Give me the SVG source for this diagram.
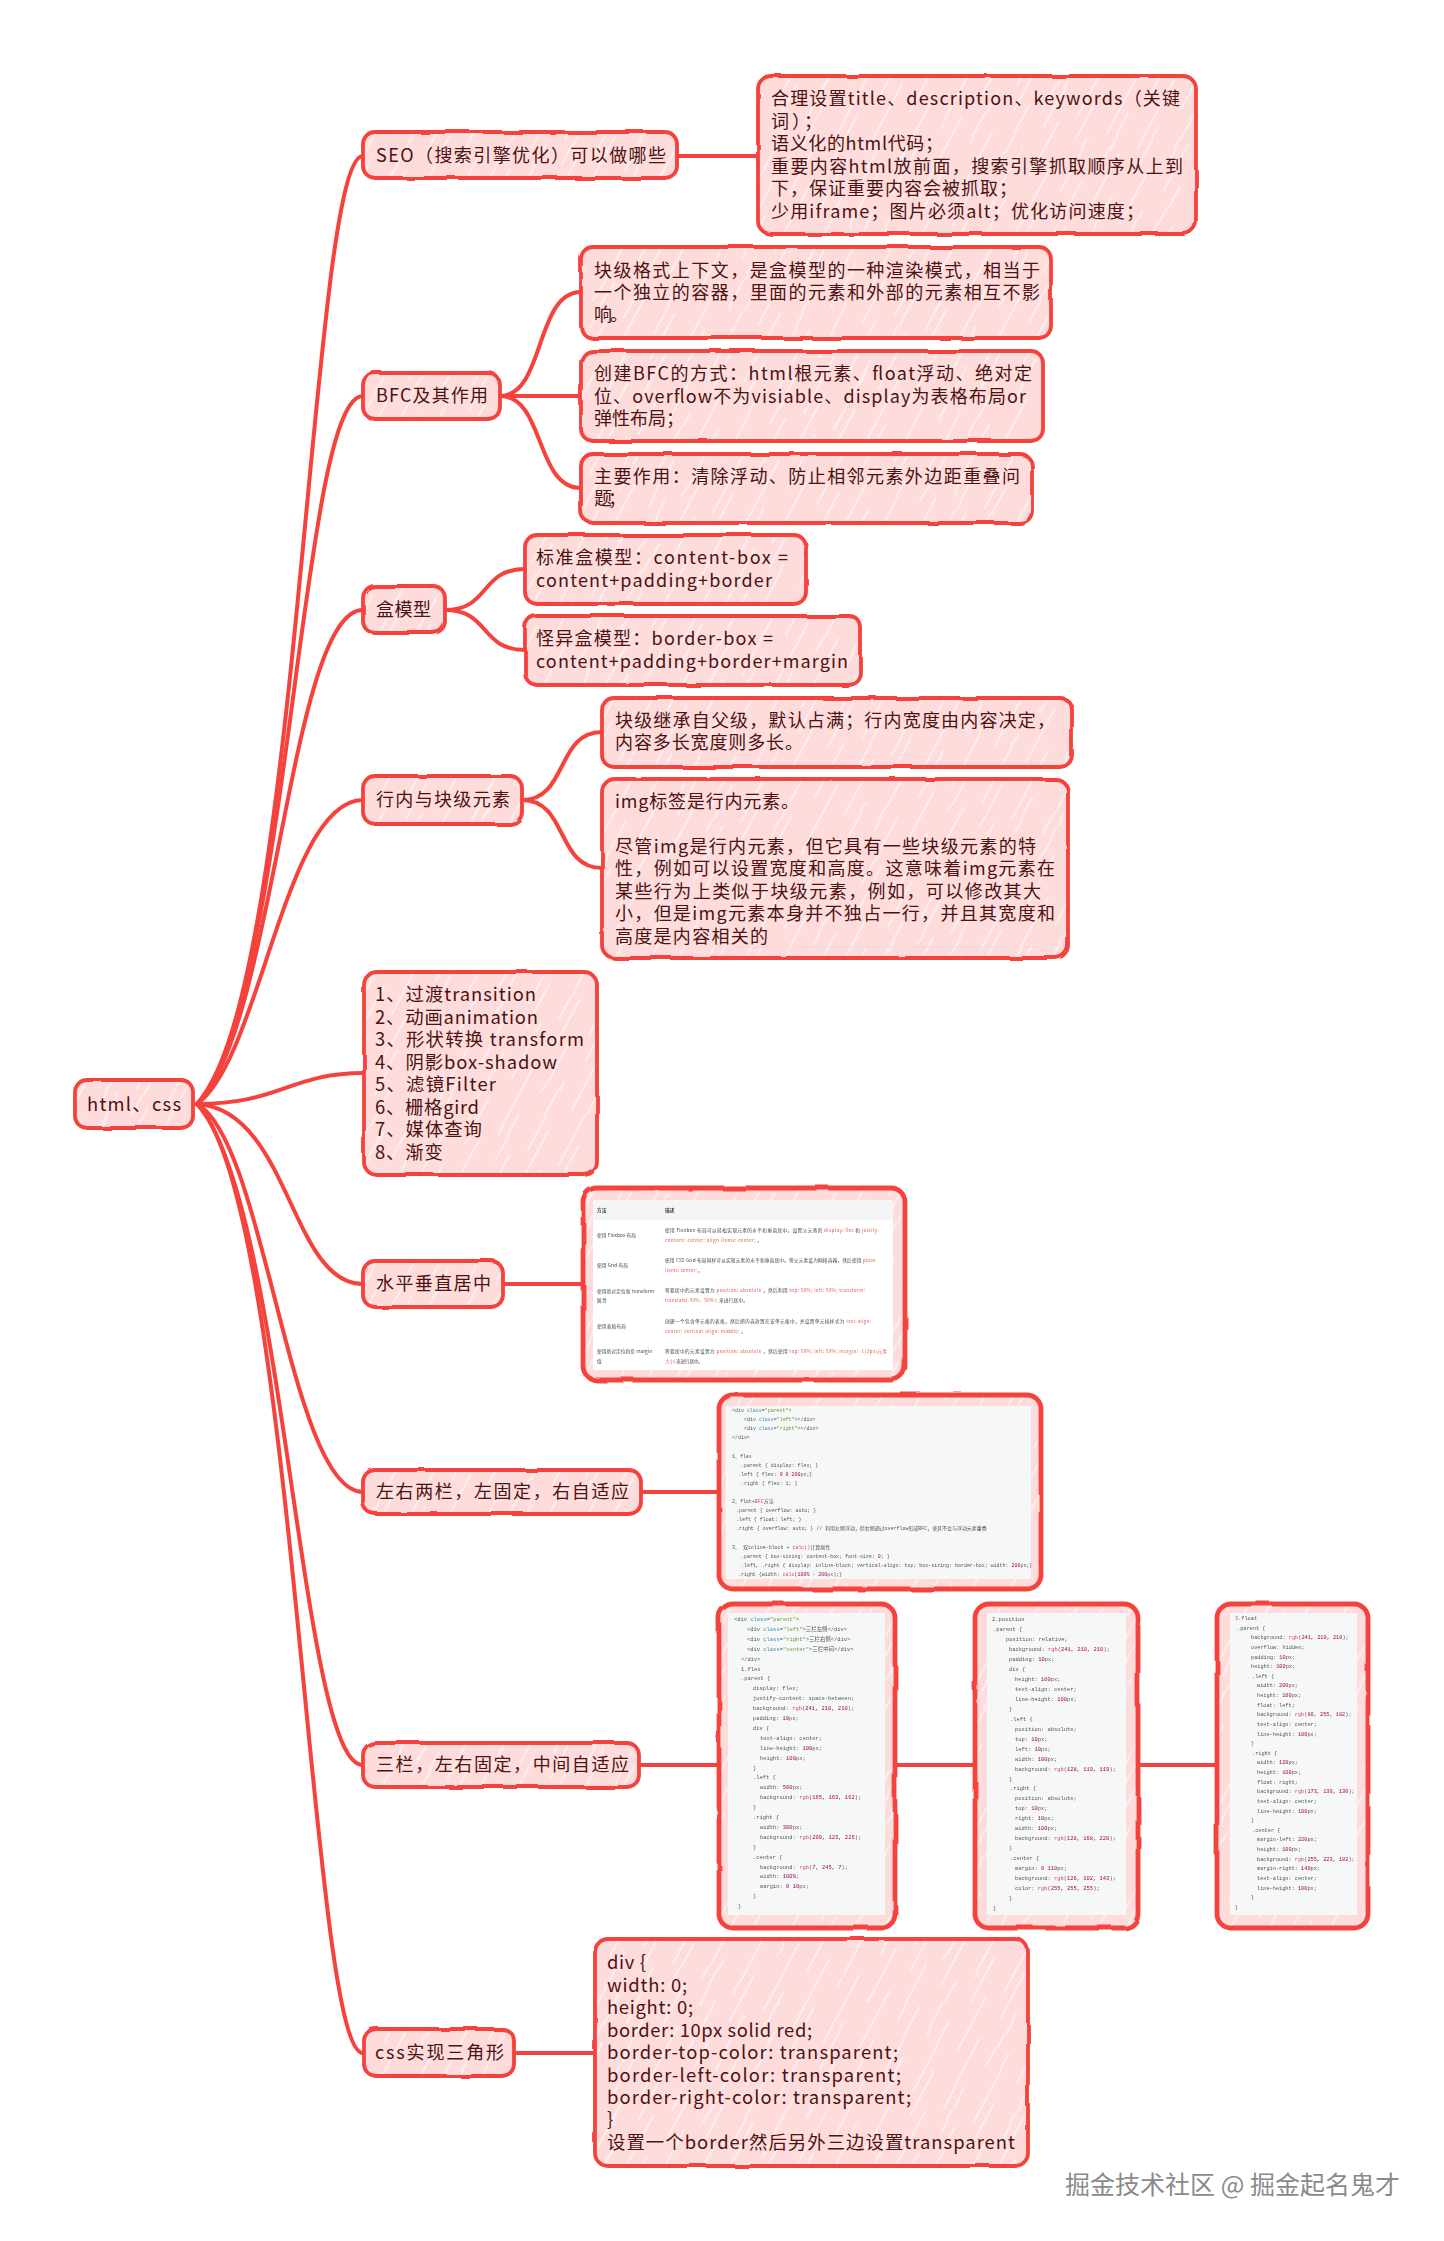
<svg xmlns="http://www.w3.org/2000/svg" width="1444" height="2241" viewBox="0 0 1444 2241">
<style>
.n{fill:url(#h);stroke:#f5423c;stroke-width:3.8;filter:url(#w)}
.i{stroke-width:4.8}
.c{fill:none;stroke:#f5423c;stroke-width:4;stroke-linecap:round}
.t{font-family:"Noto Sans CJK SC","Noto Sans",sans-serif;font-size:18px;fill:#4d1212}
.l{font-size:18.4px}
.k{font-size:18.4px}
.b{font-family:"Noto Sans CJK SC","Noto Sans",sans-serif;font-size:4.7px;fill:#444;filter:url(#s)}
.b tspan{fill:#e0635a}
.m{font-family:"Liberation Mono","Noto Sans CJK SC",monospace;fill:#555;filter:url(#s)}
.a{fill:#3f8fb5}.g{fill:#6a9a3a}.d{fill:#a3004f}.r{fill:#d8407a}
.wm{font-family:"Noto Sans CJK SC",sans-serif;font-size:25px;fill:#8a8a8a}
</style>
<defs>
<pattern id="h" patternUnits="userSpaceOnUse" width="34" height="130" patternTransform="rotate(28)">
<rect width="34" height="130" fill="#fedcdc"/>
<path d="M6 0V62M20 40V118M29 90V130M29 0V12" stroke="#fff" stroke-width="1.3" stroke-opacity=".75" fill="none"/>
</pattern>
<filter id="w" x="-5%" y="-8%" width="110%" height="116%"><feTurbulence type="fractalNoise" baseFrequency=".025" numOctaves="2" seed="4"/><feDisplacementMap in="SourceGraphic" scale="3"/></filter>
<filter id="s" x="-2%" y="-30%" width="104%" height="160%"><feGaussianBlur stdDeviation=".25"/></filter>
</defs>
<rect width="1444" height="2241" fill="#fff"/>
<g id="connectors">
<path class="c" d="M197,1104C300,1000 310,156 363,156"/>
<path class="c" d="M197,1104C290,1000 300,396 363,396"/>
<path class="c" d="M197,1104C275,1030 290,610 363,610"/>
<path class="c" d="M197,1104C260,1060 285,800 363,800"/>
<path class="c" d="M197,1104C280,1104 290,1073 364,1073"/>
<path class="c" d="M197,1104C290,1110 290,1284 363,1284"/>
<path class="c" d="M197,1104C265,1140 290,1492 363,1492"/>
<path class="c" d="M197,1104C285,1200 300,1765 363,1765"/>
<path class="c" d="M197,1104C295,1200 310,2053 363,2053"/>
<path class="c" d="M677,156H758"/>
<path class="c" d="M500,396C545,396 535,292 581,292"/>
<path class="c" d="M500,396H581"/>
<path class="c" d="M500,396C545,396 535,488 581,488"/>
<path class="c" d="M445,610C490,610 480,569 525,569"/>
<path class="c" d="M445,610C490,610 480,650 525,650"/>
<path class="c" d="M522,800C568,800 556,732 602,732"/>
<path class="c" d="M522,800C568,800 556,868 602,868"/>
<path class="c" d="M503,1284H583"/>
<path class="c" d="M641,1492H719"/>
<path class="c" d="M639,1765H718"/>
<path class="c" d="M897,1765H974"/>
<path class="c" d="M1139,1765H1216"/>
<path class="c" d="M514,2053H595"/>
</g>
<g id="root"><rect class="n" x="75" y="1080" width="118" height="48" rx="12"/><text class="t l" x="87" y="1111" textLength="94">html、css</text></g>
<g id="seo"><rect class="n" x="363" y="132" width="314" height="46" rx="12"/><text class="t" x="376" y="162" textLength="290">SEO（搜索引擎优化）可以做哪些</text></g>
<g id="seo-detail"><rect class="n" x="758" y="76" width="438" height="158" rx="13"/>
<text class="t" x="771" y="105" textLength="409">合理设置title、description、keywords（关键</text>
<text class="t" x="771" y="128" textLength="51">词）；</text>
<text class="t" x="771" y="150" textLength="172">语义化的html代码；</text>
<text class="t" x="771" y="173" textLength="412">重要内容html放前面，搜索引擎抓取顺序从上到</text>
<text class="t" x="771" y="195" textLength="246">下，保证重要内容会被抓取；</text>
<text class="t" x="771" y="218" textLength="373">少用iframe；图片必须alt；优化访问速度；</text></g>
<g id="bfc"><rect class="n" x="363" y="373" width="137" height="46" rx="12"/><text class="t" x="376" y="402" textLength="112">BFC及其作用</text></g>
<g id="bfc-1"><rect class="n" x="581" y="247" width="470" height="91" rx="12"/>
<text class="t" x="594" y="277" textLength="446">块级格式上下文，是盒模型的一种渲染模式，相当于</text>
<text class="t" x="594" y="299" textLength="446">一个独立的容器，里面的元素和外部的元素相互不影</text>
<text class="t" x="594" y="321" textLength="34">响。</text></g>
<g id="bfc-2"><rect class="n" x="581" y="351" width="462" height="90" rx="12"/>
<text class="t" x="594" y="380" textLength="438">创建BFC的方式：html根元素、float浮动、绝对定</text>
<text class="t" x="594" y="403" textLength="432">位、overflow不为visiable、display为表格布局or</text>
<text class="t" x="594" y="425" textLength="90">弹性布局；</text></g>
<g id="bfc-3"><rect class="n" x="581" y="454" width="451" height="69" rx="12"/>
<text class="t" x="594" y="483" textLength="426">主要作用：清除浮动、防止相邻元素外边距重叠问</text>
<text class="t" x="594" y="505" textLength="32">题；</text></g>
<g id="box"><rect class="n" x="363" y="586" width="82" height="47" rx="12"/><text class="t" x="376" y="616" textLength="55">盒模型</text></g>
<g id="box-1"><rect class="n" x="525" y="535" width="281" height="69" rx="12"/>
<text class="t" x="536" y="564" textLength="252">标准盒模型：content-box =</text>
<text class="t" x="536" y="587" textLength="236">content+padding+border</text></g>
<g id="box-2"><rect class="n" x="525" y="616" width="336" height="69" rx="12"/>
<text class="t" x="536" y="645" textLength="237">怪异盒模型：border-box =</text>
<text class="t" x="536" y="668" textLength="312">content+padding+border+margin</text></g>
<g id="inline"><rect class="n" x="363" y="776" width="159" height="48" rx="12"/><text class="t" x="376" y="806" textLength="134">行内与块级元素</text></g>
<g id="inline-1"><rect class="n" x="602" y="698" width="470" height="69" rx="12"/>
<text class="t" x="615" y="727" textLength="440">块级继承自父级，默认占满；行内宽度由内容决定，</text>
<text class="t" x="615" y="749" textLength="188">内容多长宽度则多长。</text></g>
<g id="inline-2"><rect class="n" x="602" y="779" width="466" height="179" rx="13"/>
<text class="t" x="615" y="808" textLength="184">img标签是行内元素。</text>
<text class="t" x="615" y="853" textLength="421">尽管img是行内元素，但它具有一些块级元素的特</text>
<text class="t" x="615" y="875" textLength="440">性，例如可以设置宽度和高度。这意味着img元素在</text>
<text class="t" x="615" y="898" textLength="426">某些行为上类似于块级元素，例如，可以修改其大</text>
<text class="t" x="615" y="920" textLength="440">小，但是img元素本身并不独占一行，并且其宽度和</text>
<text class="t" x="615" y="943" textLength="153">高度是内容相关的</text></g>
<g id="effects"><rect class="n" x="364" y="972" width="233" height="203" rx="13"/>
<text class="t k" x="375" y="1001" textLength="161">1、过渡transition</text>
<text class="t k" x="375" y="1024" textLength="163">2、动画animation</text>
<text class="t k" x="375" y="1046" textLength="209">3、形状转换 transform</text>
<text class="t k" x="375" y="1069" textLength="182">4、阴影box-shadow</text>
<text class="t k" x="375" y="1091" textLength="121">5、滤镜Filter</text>
<text class="t k" x="375" y="1114" textLength="104">6、栅格gird</text>
<text class="t k" x="375" y="1136" textLength="107">7、媒体查询</text>
<text class="t k" x="375" y="1159" textLength="68">8、渐变</text></g>
<g id="center"><rect class="n" x="363" y="1261" width="140" height="46" rx="12"/><text class="t" x="376" y="1290" textLength="115">水平垂直居中</text></g>
<g id="center-table"><rect class="n i" x="583" y="1188" width="322" height="192" rx="14"/>
<rect x="593" y="1200" width="300" height="170" fill="#fff"/><rect x="593" y="1200" width="300" height="20" fill="#f4f5f5"/>
<text class="b" x="597" y="1212" font-weight="700">方法</text><text class="b" x="665" y="1212" font-weight="700">描述</text>
<text class="b" x="597" y="1237" textLength="39">使用 Flexbox 布局</text>
<text class="b" x="665" y="1232" textLength="214">使用 Flexbox 布局可以轻松实现元素的水平和垂直居中。设置父元素的 <tspan>display: flex</tspan> 和 <tspan>justify-</tspan></text>
<text class="b" x="665" y="1242" textLength="97"><tspan>content: center; align-items: center;</tspan> 。</text>
<text class="b" x="597" y="1267" textLength="31">使用 Grid 布局</text>
<text class="b" x="665" y="1262" textLength="212">使用 CSS Grid 布局同样可以实现元素的水平和垂直居中。将父元素设为网格容器，然后使用 <tspan>place-</tspan></text>
<text class="b" x="665" y="1272" textLength="38"><tspan>items: center;</tspan> 。</text>
<text class="b" x="597" y="1293" textLength="57">使用绝对定位和 transform</text>
<text class="b" x="597" y="1302" textLength="10">属性</text>
<text class="b" x="665" y="1292" textLength="200">将要居中的元素设置为 <tspan>position: absolute</tspan> ，然后利用 <tspan>top: 50%; left: 50%; transform:</tspan></text>
<text class="b" x="665" y="1302" textLength="83"><tspan>translate(-50%, -50%);</tspan> 来进行居中。</text>
<text class="b" x="597" y="1328" textLength="29">使用表格布局</text>
<text class="b" x="665" y="1323" textLength="206">创建一个包含单元格的表格，然后把内容放置在该单元格中，并设置单元格样式为 <tspan>text-align:</tspan></text>
<text class="b" x="665" y="1333" textLength="81"><tspan>center; vertical-align: middle;</tspan> 。</text>
<text class="b" x="597" y="1353" textLength="55">使用绝对定位和负 margin</text>
<text class="b" x="597" y="1363" textLength="7">值</text>
<text class="b" x="665" y="1353" textLength="222">将要居中的元素设置为 <tspan>position: absolute</tspan> ，然后使用 <tspan>top: 50%; left: 50%; margin: -1/2px(元素</tspan></text>
<text class="b" x="665" y="1363" textLength="38"><tspan>大小)</tspan> 来进行居中。</text></g>
<g id="two-col"><rect class="n" x="363" y="1470" width="278" height="44" rx="12"/><text class="t" x="376" y="1498" textLength="253">左右两栏，左固定，右自适应</text></g>
<g id="two-col-code"><rect class="n i" x="719" y="1395" width="322" height="194" rx="14"/>
<rect x="726" y="1406" width="305" height="173" fill="#f6f7f7"/>
<text class="m" y="1412" font-size="4.97"><tspan x="732">&lt;div <tspan class="a">class</tspan>=<tspan class="g">"parent"</tspan>&gt;</tspan>
<tspan x="744" dy="9.1">&lt;div <tspan class="a">class</tspan>=<tspan class="g">"left"</tspan>&gt;&lt;/div&gt;</tspan>
<tspan x="744" dy="9.1">&lt;div <tspan class="a">class</tspan>=<tspan class="g">"right"</tspan>&gt;&lt;/div&gt;</tspan>
<tspan x="732" dy="9.1">&lt;/div&gt;</tspan>
<tspan x="732" dy="18.2">1、flex</tspan>
<tspan x="741" dy="9.1">.parent { display: flex; }</tspan>
<tspan x="738" dy="9.1">.left { flex: <tspan class="d">0 0 200</tspan>px;}</tspan>
<tspan x="741" dy="9.1">.right { flex: 1; }</tspan>
<tspan x="732" dy="18.2">2、flot+<tspan class="r">BFC</tspan>方法</tspan>
<tspan x="736" dy="9.1">.parent { overflow: auto; }</tspan>
<tspan x="736" dy="9.1">.left { float: left; }</tspan>
<tspan x="736" dy="9.1">.right { overflow: auto; } // 利用左侧浮动，但右侧通过overflow形成BFC，使其不会与浮动元素重叠</tspan>
<tspan x="732" dy="18.2">3、 双inline-block + <tspan class="r">calc()</tspan>计算属性</tspan>
<tspan x="741" dy="9.1">.parent { box-sizing: content-box; font-size: <tspan class="d">0</tspan>; }</tspan>
<tspan x="741" dy="9.1">.left, .right { display: inline-block; vertical-align: top; box-sizing: border-box; width: <tspan class="d">200</tspan>px;}</tspan>
<tspan x="738" dy="9.1">.right {width: <tspan class="r">calc</tspan>(<tspan class="d">100%</tspan> - <tspan class="d">200</tspan>px);}</tspan></text></g>
<g id="three-col"><rect class="n" x="363" y="1743" width="276" height="44" rx="12"/><text class="t" x="376" y="1771" textLength="253">三栏，左右固定，中间自适应</text></g>
<g id="three-col-flex"><rect class="n i" x="719" y="1604" width="176" height="324" rx="14"/>
<rect x="728" y="1613" width="157" height="302" fill="#f6f7f7"/>
<text class="m" y="1621" font-size="5.45"><tspan x="734">&lt;div <tspan class="a">class</tspan>=<tspan class="g">"parent"</tspan>&gt;</tspan>
<tspan x="747" dy="9.9">&lt;div <tspan class="a">class</tspan>=<tspan class="g">"left"</tspan>&gt;三栏左侧&lt;/div&gt;</tspan>
<tspan x="747" dy="9.9">&lt;div <tspan class="a">class</tspan>=<tspan class="g">"right"</tspan>&gt;三栏右侧&lt;/div&gt;</tspan>
<tspan x="747" dy="9.9">&lt;div <tspan class="a">class</tspan>=<tspan class="g">"center"</tspan>&gt;三栏中间&lt;/div&gt;</tspan>
<tspan x="741" dy="9.9">&lt;/div&gt;</tspan>
<tspan x="741" dy="9.9">1.flex</tspan>
<tspan x="741" dy="9.9">.parent {</tspan>
<tspan x="753" dy="9.9">display: flex;</tspan>
<tspan x="753" dy="9.9">justify-content: space-between;</tspan>
<tspan x="753" dy="9.9">background: <tspan class="r">rgb</tspan>(<tspan class="d">241, 210, 210</tspan>);</tspan>
<tspan x="753" dy="9.9">padding: <tspan class="d">10</tspan>px;</tspan>
<tspan x="753" dy="9.9">div {</tspan>
<tspan x="760" dy="9.9">text-align: center;</tspan>
<tspan x="760" dy="9.9">line-height: <tspan class="d">100</tspan>px;</tspan>
<tspan x="760" dy="9.9">height: <tspan class="d">100</tspan>px;</tspan>
<tspan x="753" dy="9.9">}</tspan>
<tspan x="753" dy="9.9">.left {</tspan>
<tspan x="760" dy="9.9">width: <tspan class="d">500</tspan>px;</tspan>
<tspan x="760" dy="9.9">background: <tspan class="r">rgb</tspan>(<tspan class="d">165, 163, 162</tspan>);</tspan>
<tspan x="753" dy="9.9">}</tspan>
<tspan x="753" dy="9.9">.right {</tspan>
<tspan x="760" dy="9.9">width: <tspan class="d">300</tspan>px;</tspan>
<tspan x="760" dy="9.9">background: <tspan class="r">rgb</tspan>(<tspan class="d">209, 123, 226</tspan>);</tspan>
<tspan x="753" dy="9.9">}</tspan>
<tspan x="753" dy="9.9">.center {</tspan>
<tspan x="760" dy="9.9">background: <tspan class="r">rgb</tspan>(<tspan class="d">7, 245, 7</tspan>);</tspan>
<tspan x="760" dy="9.9">width: <tspan class="d">100%</tspan>;</tspan>
<tspan x="760" dy="9.9">margin: <tspan class="d">0 10</tspan>px;</tspan>
<tspan x="753" dy="9.9">}</tspan>
<tspan x="738" dy="9.9">}</tspan></text></g>
<g id="three-col-position"><rect class="n i" x="975" y="1604" width="163" height="324" rx="14"/>
<rect x="987" y="1613" width="139" height="302" fill="#f6f7f7"/>
<text class="m" y="1621" font-size="5.43"><tspan x="992">2.position</tspan>
<tspan x="993" dy="9.97">.parent {</tspan>
<tspan x="1006" dy="9.97">position: relative;</tspan>
<tspan x="1009" dy="9.97">background: <tspan class="r">rgb</tspan>(<tspan class="d">241, 210, 210</tspan>);</tspan>
<tspan x="1009" dy="9.97">padding: <tspan class="d">10</tspan>px;</tspan>
<tspan x="1009" dy="9.97">div {</tspan>
<tspan x="1015" dy="9.97">height: <tspan class="d">100</tspan>px;</tspan>
<tspan x="1015" dy="9.97">text-align: center;</tspan>
<tspan x="1015" dy="9.97">line-height: <tspan class="d">100</tspan>px;</tspan>
<tspan x="1009" dy="9.97">}</tspan>
<tspan x="1010" dy="9.97">.left {</tspan>
<tspan x="1015" dy="9.97">position: absolute;</tspan>
<tspan x="1015" dy="9.97">top: <tspan class="d">10</tspan>px;</tspan>
<tspan x="1015" dy="9.97">left: <tspan class="d">10</tspan>px;</tspan>
<tspan x="1015" dy="9.97">width: <tspan class="d">100</tspan>px;</tspan>
<tspan x="1015" dy="9.97">background: <tspan class="r">rgb</tspan>(<tspan class="d">128, 119, 119</tspan>);</tspan>
<tspan x="1009" dy="9.97">}</tspan>
<tspan x="1010" dy="9.97">.right {</tspan>
<tspan x="1015" dy="9.97">position: absolute;</tspan>
<tspan x="1015" dy="9.97">top: <tspan class="d">10</tspan>px;</tspan>
<tspan x="1015" dy="9.97">right: <tspan class="d">10</tspan>px;</tspan>
<tspan x="1015" dy="9.97">width: <tspan class="d">100</tspan>px;</tspan>
<tspan x="1015" dy="9.97">background: <tspan class="r">rgb</tspan>(<tspan class="d">128, 168, 228</tspan>);</tspan>
<tspan x="1009" dy="9.97">}</tspan>
<tspan x="1010" dy="9.97">.center {</tspan>
<tspan x="1015" dy="9.97">margin: <tspan class="d">0 110</tspan>px;</tspan>
<tspan x="1015" dy="9.97">background: <tspan class="r">rgb</tspan>(<tspan class="d">126, 102, 143</tspan>);</tspan>
<tspan x="1015" dy="9.97">color: <tspan class="r">rgb</tspan>(<tspan class="d">255, 255, 255</tspan>);</tspan>
<tspan x="1009" dy="9.97">}</tspan>
<tspan x="993" dy="9.97">}</tspan></text></g>
<g id="three-col-float"><rect class="n i" x="1217" y="1604" width="151" height="324" rx="14"/>
<rect x="1230" y="1613" width="127" height="302" fill="#f6f7f7"/>
<text class="m" y="1620" font-size="5.25"><tspan x="1235"><tspan class="r">3</tspan>.float</tspan>
<tspan x="1237" dy="9.63">.parent {</tspan>
<tspan x="1251" dy="9.63">background: <tspan class="r">rgb</tspan>(<tspan class="d">241, 210, 210</tspan>);</tspan>
<tspan x="1251" dy="9.63">overflow: hidden;</tspan>
<tspan x="1251" dy="9.63">padding: <tspan class="d">10</tspan>px;</tspan>
<tspan x="1251" dy="9.63">height: <tspan class="d">100</tspan>px;</tspan>
<tspan x="1252" dy="9.63">.left {</tspan>
<tspan x="1257" dy="9.63">width: <tspan class="d">200</tspan>px;</tspan>
<tspan x="1257" dy="9.63">height: <tspan class="d">100</tspan>px;</tspan>
<tspan x="1257" dy="9.63">float: left;</tspan>
<tspan x="1257" dy="9.63">background: <tspan class="r">rgb</tspan>(<tspan class="d">80, 255, 182</tspan>);</tspan>
<tspan x="1257" dy="9.63">text-align: center;</tspan>
<tspan x="1257" dy="9.63">line-height: <tspan class="d">100</tspan>px;</tspan>
<tspan x="1251" dy="9.63">}</tspan>
<tspan x="1252" dy="9.63">.right {</tspan>
<tspan x="1257" dy="9.63">width: <tspan class="d">120</tspan>px;</tspan>
<tspan x="1257" dy="9.63">height: <tspan class="d">100</tspan>px;</tspan>
<tspan x="1257" dy="9.63">float: right;</tspan>
<tspan x="1257" dy="9.63">background: <tspan class="r">rgb</tspan>(<tspan class="d">173, 130, 130</tspan>);</tspan>
<tspan x="1257" dy="9.63">text-align: center;</tspan>
<tspan x="1257" dy="9.63">line-height: <tspan class="d">100</tspan>px;</tspan>
<tspan x="1251" dy="9.63">}</tspan>
<tspan x="1252" dy="9.63">.center {</tspan>
<tspan x="1257" dy="9.63">margin-left: <tspan class="d">220</tspan>px;</tspan>
<tspan x="1257" dy="9.63">height: <tspan class="d">100</tspan>px;</tspan>
<tspan x="1257" dy="9.63">background: <tspan class="r">rgb</tspan>(<tspan class="d">255, 223, 182</tspan>);</tspan>
<tspan x="1257" dy="9.63">margin-right: <tspan class="d">140</tspan>px;</tspan>
<tspan x="1257" dy="9.63">text-align: center;</tspan>
<tspan x="1257" dy="9.63">line-height: <tspan class="d">100</tspan>px;</tspan>
<tspan x="1251" dy="9.63">}</tspan>
<tspan x="1235" dy="9.63">}</tspan></text></g>
<g id="triangle"><rect class="n" x="364" y="2029" width="150" height="47" rx="12"/><text class="t" x="375" y="2059" textLength="129">css实现三角形</text></g>
<g id="triangle-code"><rect class="n" x="595" y="1939" width="433" height="227" rx="13"/>
<text class="t l" x="607" y="1969" textLength="39">div {</text>
<text class="t l" x="607" y="1992" textLength="80">width: 0;</text>
<text class="t l" x="607" y="2014" textLength="86">height: 0;</text>
<text class="t l" x="607" y="2037" textLength="205">border: 10px solid red;</text>
<text class="t l" x="607" y="2059" textLength="291">border-top-color: transparent;</text>
<text class="t l" x="607" y="2082" textLength="294">border-left-color: transparent;</text>
<text class="t l" x="607" y="2104" textLength="304">border-right-color: transparent;</text>
<text class="t l" x="607" y="2126" textLength="7">}</text>
<text class="t l" x="607" y="2149" textLength="408">设置一个border然后另外三边设置transparent</text></g>
<text class="wm" x="1065" y="2194" textLength="335">掘金技术社区 @ 掘金起名鬼才</text>
</svg>
